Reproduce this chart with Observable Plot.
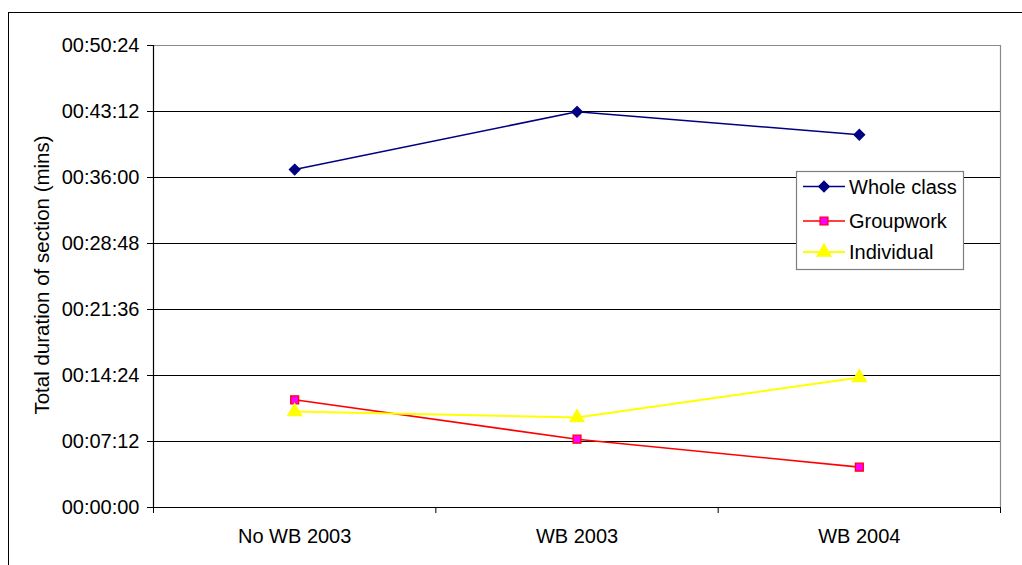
<!DOCTYPE html>
<html><head><meta charset="utf-8">
<script src="https://cdn.jsdelivr.net/npm/d3@7"></script>
<script src="https://cdn.jsdelivr.net/npm/@observablehq/plot@0.6"></script>
<style>
body{margin:0;background:#fff;}
#wrap{position:relative;width:1022px;height:565px;overflow:hidden;font-family:"Liberation Sans",Arial,sans-serif;}
#border{position:absolute;left:8px;top:12px;width:1100px;height:700px;border-left:1.5px solid #000;border-top:1.5px solid #000;pointer-events:none;}
#ytitle{position:absolute;left:42px;top:275px;transform:translate(-50%,-50%) rotate(-90deg);font-size:20.5px;white-space:nowrap;color:#000;}
#legend{position:absolute;left:0;top:0;}
#chart{position:absolute;left:0;top:0;}
</style></head>
<body><div id="wrap"><div id="chart"></div><div id="border"></div><div id="ytitle">Total duration of section (mins)</div><svg id="legend" width="1022" height="565"></svg></div>
<script>
// ---- data (durations in seconds) ----
const categories = ["No WB 2003", "WB 2003", "WB 2004"];
const seriesNames = ["Whole class", "Groupwork", "Individual"];
const wholeClass = [2212, 2590, 2440];
const groupwork = [705, 447, 264];
const individual = [628, 589, 851];
const yTickValues = [0, 432, 864, 1296, 1728, 2160, 2592, 3024];
const yTickLabels = ["00:00:00","00:07:12","00:14:24","00:21:36","00:28:48","00:36:00","00:43:12","00:50:24"];

const seriesValues = {"Whole class": wholeClass, "Groupwork": groupwork, "Individual": individual};
const styles = {
  "Whole class": {line:"#000080", fill:"#000080", mstroke:"#000080", symbol:"diamond2", r:4.8, sw:1.6},
  "Groupwork":   {line:"#ff0000", fill:"#ff00ff", mstroke:"#ff0000", symbol:"square", r:4.5, sw:1.6},
  "Individual":  {line:"#ffff00", fill:"#ffff00", mstroke:"#ffff00", symbol:"triangle", r:5.2, sw:2}
};
const rows = seriesNames.flatMap(s => categories.map((c, i) => ({series: s, cat: c, xi: i + 0.5, v: seriesValues[s][i]})));

const lineMarks = seriesNames.map(s => Plot.line(rows.filter(r => r.series === s), {x: "xi", y: "v", stroke: styles[s].line, strokeWidth: styles[s].sw}));
const dotMarks = seriesNames.map(s => Plot.dot(rows.filter(r => r.series === s), {x: "xi", y: "v", symbol: () => styles[s].symbol, r: styles[s].r, fill: styles[s].fill, stroke: styles[s].mstroke, strokeWidth: 1.2}));

const plot = Plot.plot({
  width: 1022, height: 565,
  marginLeft: 153, marginRight: 22, marginTop: 45, marginBottom: 58,
  x: {domain: [0, categories.length], axis: null},
  y: {domain: [0, yTickValues[yTickValues.length - 1]], axis: null},
  symbol: {type: "identity"},
  style: {fontFamily: "Liberation Sans, Arial, sans-serif", fontSize: "20px", background: "transparent", color: "#000"},
  marks: [
    Plot.ruleY(yTickValues.slice(1, -1), {stroke: "#000", strokeWidth: 1}),
    Plot.ruleY([yTickValues[yTickValues.length - 1]], {stroke: "#8a8a8a", strokeWidth: 1.2}),
    Plot.ruleX([categories.length], {stroke: "#8a8a8a", strokeWidth: 1.2}),
    Plot.ruleX([0], {stroke: "#000", strokeWidth: 1.2}),
    Plot.ruleY([0], {stroke: "#000", strokeWidth: 1.2}),
    Plot.axisY({ticks: yTickValues, tickFormat: d => yTickLabels[yTickValues.indexOf(d)], tickSize: 6, tickPadding: 8, fontSize: 20, label: null}),
    Plot.axisX({ticks: d3.range(categories.length + 1), tickSize: 6, tickFormat: () => "", label: null}),
    Plot.axisX({ticks: categories.map((c, i) => i + 0.5), tickSize: 0, tickPadding: 21, fontSize: 20, label: null, tickFormat: d => categories[Math.floor(d)]}),
    ...lineMarks,
    ...dotMarks
  ]
});
document.getElementById("chart").append(plot);

// ---- legend ----
const lg = d3.select("#legend");
const box = {x: 796, y: 171, w: 167, h: 98};
lg.append("rect").attr("x", box.x + 0.5).attr("y", box.y + 0.5).attr("width", box.w).attr("height", box.h)
  .attr("fill", "#fff").attr("stroke", "#7f7f7f").attr("stroke-width", 1.2);
const rowY = [186.5, 221, 252];
seriesNames.forEach((s, i) => {
  const st = styles[s];
  const g = lg.append("g").attr("transform", `translate(0,${rowY[i]})`);
  g.append("line").attr("x1", 803).attr("x2", 845).attr("y1", 0).attr("y2", 0).attr("stroke", st.line).attr("stroke-width", st.sw);
  const sym = {diamond2: d3.symbolDiamond2, square: d3.symbolSquare, triangle: d3.symbolTriangle}[st.symbol];
  g.append("path").attr("d", d3.symbol(sym, Math.PI * st.r * st.r)()).attr("transform", "translate(824,0)")
    .attr("fill", st.fill).attr("stroke", st.mstroke).attr("stroke-width", 1.2);
  g.append("text").attr("x", 849).attr("y", 0).attr("dy", "0.35em").attr("font-size", 20)
    .attr("font-family", "Liberation Sans, Arial, sans-serif").attr("fill", "#000").text(s);
});
</script>
</body></html>
